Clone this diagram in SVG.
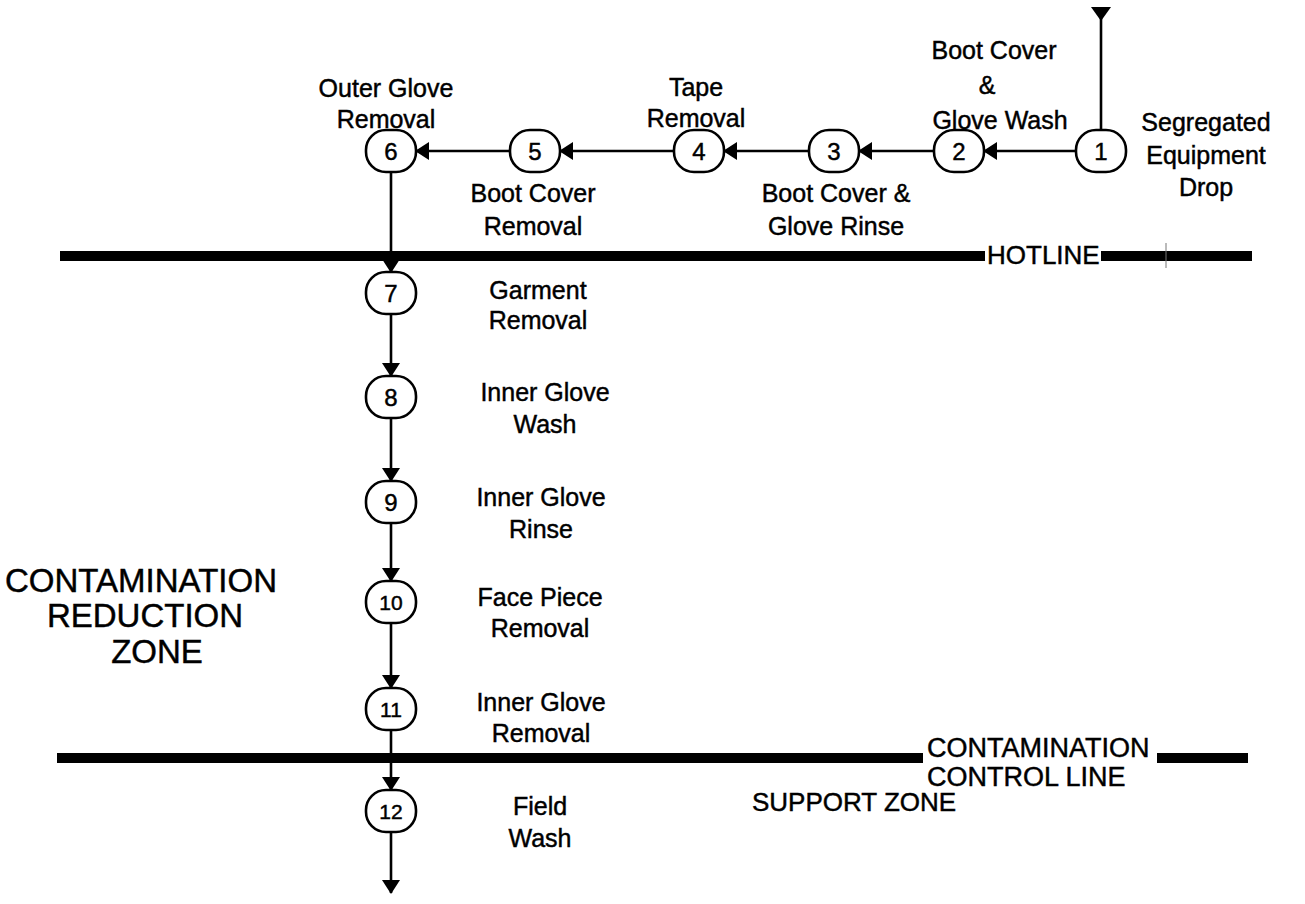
<svg xmlns="http://www.w3.org/2000/svg" width="1305" height="904" viewBox="0 0 1305 904">
<style>
text{font-family:"Liberation Sans",Arial,sans-serif;fill:#000;stroke:#000;stroke-width:0.45}
.lbl{font-size:25px;text-anchor:middle}
.num{font-size:24px;text-anchor:middle}
.num2{font-size:21px;text-anchor:middle}
.big{font-size:33px;text-anchor:middle}
.zone{font-size:26px}
.box{fill:#fff;stroke:#000;stroke-width:2.6}
.con{fill:none;stroke:#000;stroke-width:2.6}
.band{stroke:#000;stroke-width:10}
</style>
<defs>
<marker id="arr" markerWidth="14" markerHeight="18" refX="13" refY="9" orient="auto" markerUnits="userSpaceOnUse"><path d="M0,0 L14,9 L0,18 z" fill="#000"/></marker>
<marker id="arrS" markerWidth="14" markerHeight="20" refX="0" refY="10" orient="auto" markerUnits="userSpaceOnUse"><path d="M0,0 L14,10 L0,20 z" fill="#000"/></marker>
</defs>
<rect width="1305" height="904" fill="#fff"/>
<g id="lines">
<line class="band" x1="60" y1="256" x2="985" y2="256"/>
<line class="band" x1="1101" y1="256" x2="1252" y2="256"/>
<line x1="1166" y1="243" x2="1166" y2="268" stroke="#777" stroke-width="1"/>
<text class="zone" x="987" y="264">HOTLINE</text>
<line class="band" x1="57" y1="758" x2="923" y2="758"/>
<line class="band" x1="1157" y1="758" x2="1248" y2="758"/>
<text class="zone" x="927" y="757" style="font-size:27px">CONTAMINATION</text>
<text class="zone" x="927" y="786" style="font-size:27px">CONTROL LINE</text>
</g>
<g id="connectors">
<path class="con" d="M1101,7 L1101,129" marker-start="url(#arrS)"/>
<path class="con" d="M1075,151 L984,151" marker-end="url(#arr)"/>
<path class="con" d="M934,151 L859,151" marker-end="url(#arr)"/>
<path class="con" d="M809,151 L724,151" marker-end="url(#arr)"/>
<path class="con" d="M674,151 L560,151" marker-end="url(#arr)"/>
<path class="con" d="M510,151 L416,151" marker-end="url(#arr)"/>
<path class="con" d="M391,172 L391,272" marker-end="url(#arr)"/>
<path class="con" d="M391,314 L391,376" marker-end="url(#arr)"/>
<path class="con" d="M391,418 L391,481" marker-end="url(#arr)"/>
<path class="con" d="M391,523 L391,581" marker-end="url(#arr)"/>
<path class="con" d="M391,623 L391,688" marker-end="url(#arr)"/>
<path class="con" d="M391,730 L391,790" marker-end="url(#arr)"/>
<path class="con" d="M391,832 L391,893" marker-end="url(#arr)"/>
</g>
<g id="n1">
<rect class="box" x="1076" y="130" width="50" height="42" rx="20"/>
<text class="num" x="1101" y="160">1</text>
<text class="lbl" x="1206" y="131">Segregated</text>
<text class="lbl" x="1206" y="164">Equipment</text>
<text class="lbl" x="1206" y="196">Drop</text>
</g>
<g id="n2">
<rect class="box" x="934" y="130" width="50" height="42" rx="20"/>
<text class="num" x="959" y="160">2</text>
<text class="lbl" x="994" y="59">Boot Cover</text>
<text class="lbl" x="987" y="94">&amp;</text>
<text class="lbl" x="1000" y="129">Glove Wash</text>
</g>
<g id="n3">
<rect class="box" x="809" y="130" width="50" height="42" rx="20"/>
<text class="num" x="834" y="160">3</text>
<text class="lbl" x="836" y="202">Boot Cover &amp;</text>
<text class="lbl" x="836" y="235">Glove Rinse</text>
</g>
<g id="n4">
<rect class="box" x="674" y="130" width="50" height="42" rx="20"/>
<text class="num" x="699" y="160">4</text>
<text class="lbl" x="696" y="96">Tape</text>
<text class="lbl" x="696" y="127">Removal</text>
</g>
<g id="n5">
<rect class="box" x="510" y="130" width="50" height="42" rx="20"/>
<text class="num" x="535" y="160">5</text>
<text class="lbl" x="533" y="202">Boot Cover</text>
<text class="lbl" x="533" y="235">Removal</text>
</g>
<g id="n6">
<rect class="box" x="366" y="130" width="50" height="42" rx="20"/>
<text class="num" x="391" y="160">6</text>
<text class="lbl" x="386" y="97">Outer Glove</text>
<text class="lbl" x="386" y="128">Removal</text>
</g>
<g id="n7">
<rect class="box" x="366" y="272" width="50" height="42" rx="20"/>
<text class="num" x="391" y="302">7</text>
<text class="lbl" x="538" y="299">Garment</text>
<text class="lbl" x="538" y="329">Removal</text>
</g>
<g id="n8">
<rect class="box" x="366" y="376" width="50" height="42" rx="20"/>
<text class="num" x="391" y="406">8</text>
<text class="lbl" x="545" y="401">Inner Glove</text>
<text class="lbl" x="545" y="433">Wash</text>
</g>
<g id="n9">
<rect class="box" x="366" y="481" width="50" height="42" rx="20"/>
<text class="num" x="391" y="511">9</text>
<text class="lbl" x="541" y="506">Inner Glove</text>
<text class="lbl" x="541" y="538">Rinse</text>
</g>
<g id="n10">
<rect class="box" x="366" y="581" width="50" height="42" rx="20"/>
<text class="num2" x="391" y="610">10</text>
<text class="lbl" x="540" y="606">Face Piece</text>
<text class="lbl" x="540" y="637">Removal</text>
</g>
<g id="n11">
<rect class="box" x="366" y="688" width="50" height="42" rx="20"/>
<text class="num2" x="391" y="717">11</text>
<text class="lbl" x="541" y="711">Inner Glove</text>
<text class="lbl" x="541" y="742">Removal</text>
</g>
<g id="n12">
<rect class="box" x="366" y="790" width="50" height="42" rx="20"/>
<text class="num2" x="391" y="819">12</text>
<text class="lbl" x="540" y="815">Field</text>
<text class="lbl" x="540" y="847">Wash</text>
</g>
<g id="zones">
<text class="big" x="141" y="592">CONTAMINATION</text>
<text class="big" x="145" y="627">REDUCTION</text>
<text class="big" x="157" y="663">ZONE</text>
<text class="zone" x="752" y="811">SUPPORT ZONE</text>
</g>
</svg>
